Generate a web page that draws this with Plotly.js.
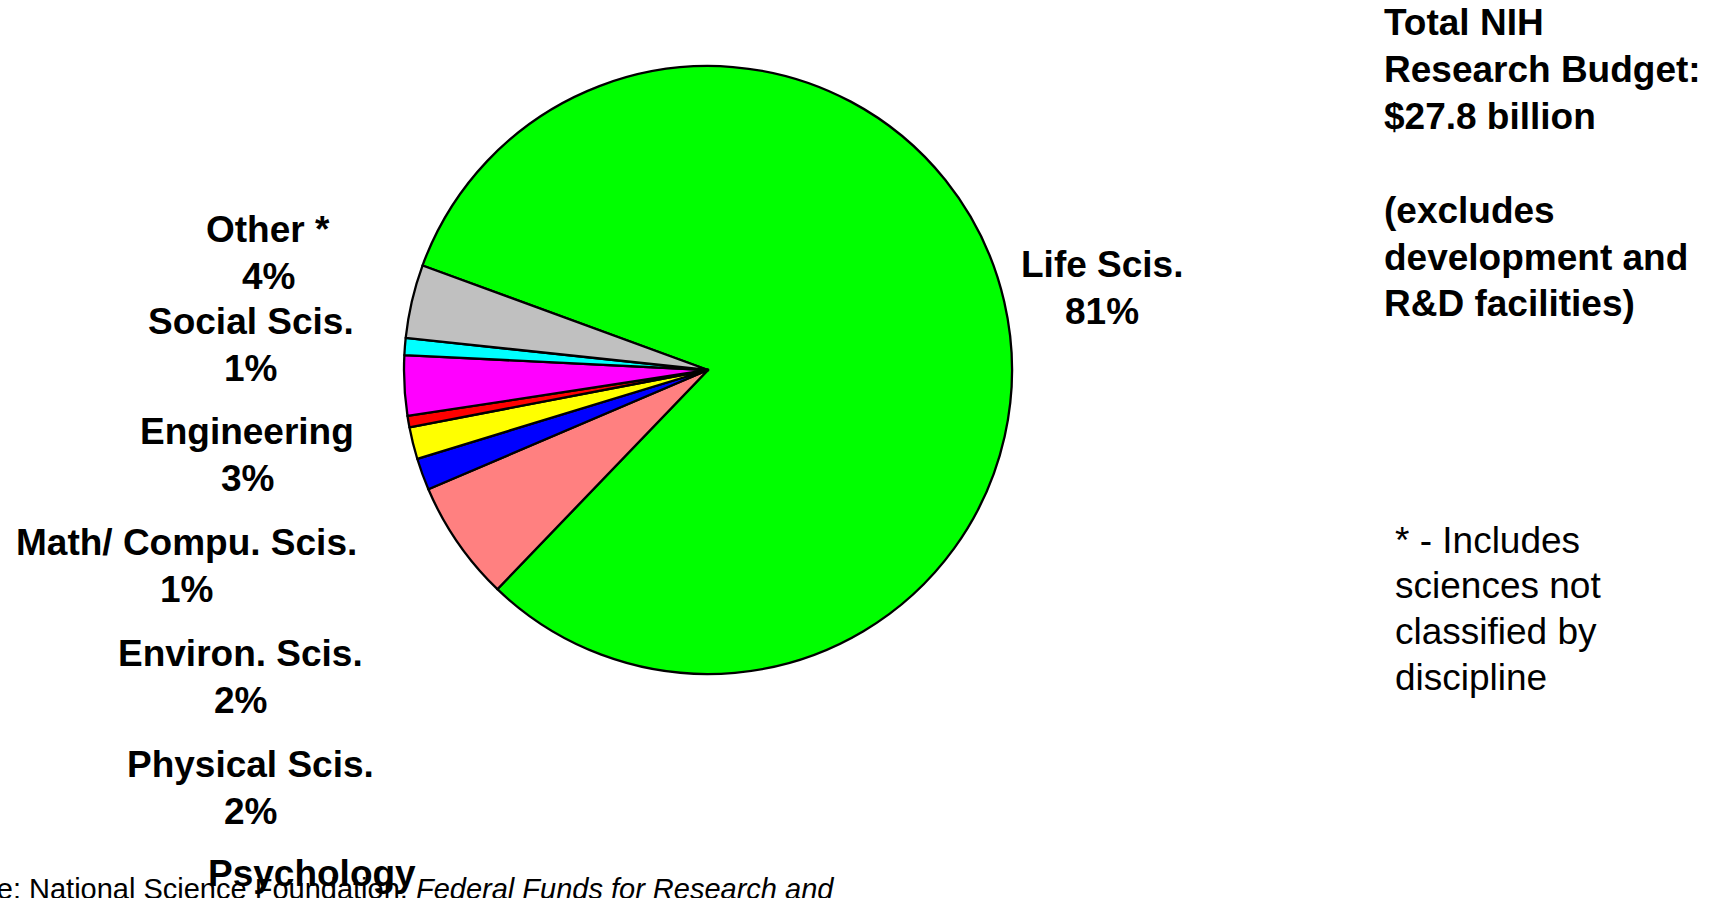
<!DOCTYPE html>
<html>
<head>
<meta charset="utf-8">
<script src="https://cdn.plot.ly/plotly-3.0.1.min.js"></script>
<style>
  html, body { margin: 0; padding: 0; background: #ffffff; }
  #chart { width: 1716px; height: 898px; }
</style>
</head>
<body>
<div id="chart"></div>
<script>
// ---- Data ----
const categories = ['Life Scis.', 'Psychology', 'Physical Scis.', 'Environ. Scis.',
                    'Math/ Compu. Scis.', 'Engineering', 'Social Scis.', 'Other *'];
const shares = [81.6, 6.4, 1.7, 1.7, 0.6, 3.2, 0.9, 3.9];
const pctLabels = ['81%', '6%', '2%', '2%', '1%', '3%', '1%', '4%'];
const sliceColors = ['#00FF00', '#FF8080', '#0000FF', '#FFFF00',
                     '#FF0000', '#FF00FF', '#00FFFF', '#C0C0C0'];
const budgetLines = ['Total NIH', 'Research Budget:', '$27.8 billion', '',
                     '(excludes', 'development and', 'R&D facilities)'];
const footnoteLines = ['* - Includes', 'sciences not', 'classified by', 'discipline'];
const sourcePlain = 'Source: National Science Foundation, ';
const sourceItalic = 'Federal Funds for Research and';

// ---- Layout helpers (page pixels -> paper coords) ----
const W = 1716, H = 898;
const px = x => x / W;
const py = y => 1 - y / H;
const FONT = 'Liberation Sans, Arial, Helvetica, sans-serif';

// label placement (centre x, first-line y) for each category, same order as categories
const labelPos = [
  [1102, 264], [312, 873], [251, 764], [240, 653],
  [186, 542], [247, 431], [251, 321], [268, 229]
];
const LINE = 47;

const annotations = [];
categories.forEach((c, i) => {
  const [cx, cy] = labelPos[i];
  annotations.push({
    xref: 'paper', yref: 'paper', x: px(cx), y: py(cy),
    xanchor: 'center', yanchor: 'middle', showarrow: false,
    text: '<b>' + c + '</b>', font: {family: FONT, size: 37, color: '#000'}
  });
  annotations.push({
    xref: 'paper', yref: 'paper', x: px(cx), y: py(cy + LINE),
    xanchor: 'center', yanchor: 'middle', showarrow: false,
    text: '<b>' + pctLabels[i] + '</b>', font: {family: FONT, size: 37, color: '#000'}
  });
});

budgetLines.forEach((t, i) => {
  if (!t) return;
  annotations.push({
    xref: 'paper', yref: 'paper', x: px(1382), y: py(23 + i * 46.8),
    xanchor: 'left', yanchor: 'middle', showarrow: false,
    text: '<b>' + t.replace('&', '&amp;') + '</b>', font: {family: FONT, size: 37, color: '#000'}
  });
});

footnoteLines.forEach((t, i) => {
  annotations.push({
    xref: 'paper', yref: 'paper', x: px(1393), y: py(540 + i * 45.7),
    xanchor: 'left', yanchor: 'middle', showarrow: false,
    text: t, font: {family: FONT, size: 37, color: '#000'}
  });
});

annotations.unshift({
  xref: 'paper', yref: 'paper', x: px(836), y: py(889),
  xanchor: 'right', yanchor: 'middle', showarrow: false,
  text: sourcePlain + '<i>' + sourceItalic + '</i>',
  font: {family: FONT, size: 29, color: '#000'}
});

// pie geometry: centre (708,370), radius 304 px
const cx = 708, cy = 370, R = 304;

const trace = {
  type: 'pie',
  labels: categories,
  values: shares,
  sort: false,
  direction: 'clockwise',
  rotation: -69.9,
  textinfo: 'none',
  textposition: 'none',
  hoverinfo: 'label+text',
  text: pctLabels,
  marker: {colors: sliceColors, line: {color: '#000000', width: 2.3}},
  domain: {x: [px(cx - R), px(cx + R)], y: [py(cy + R), py(cy - R)]}
};

const layout = {
  width: W, height: H,
  margin: {l: 0, r: 0, t: 0, b: 0},
  paper_bgcolor: '#ffffff',
  plot_bgcolor: '#ffffff',
  showlegend: false,
  annotations: annotations
};

Plotly.newPlot('chart', [trace], layout, {displayModeBar: false, staticPlot: true});
</script>
</body>
</html>
